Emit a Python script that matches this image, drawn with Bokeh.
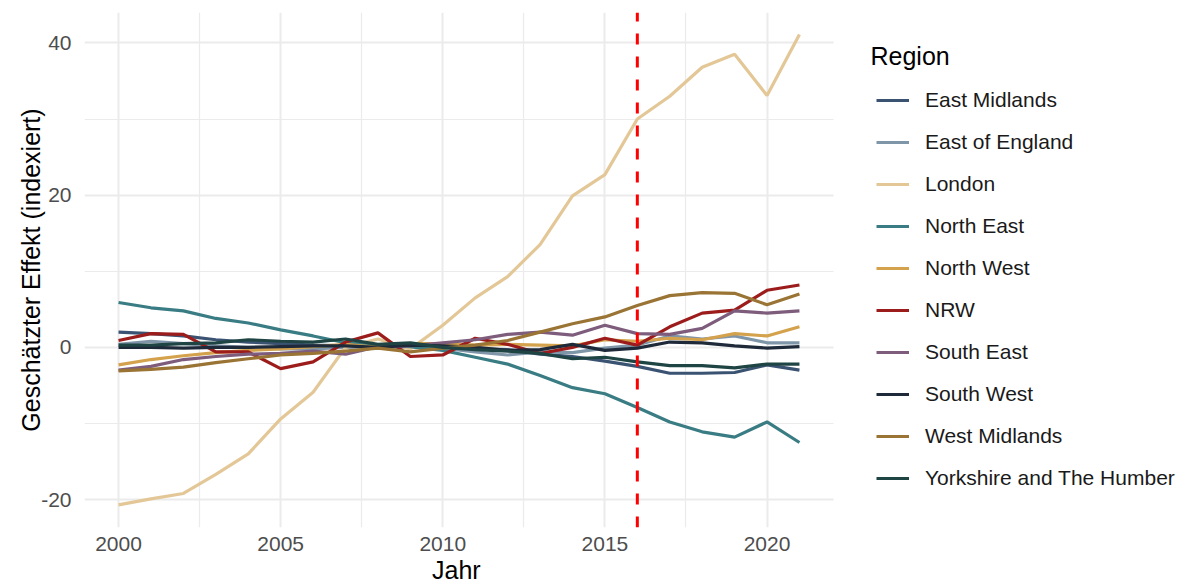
from bokeh.plotting import figure
from bokeh.models import Range1d, FixedTicker, Legend, LegendItem, Label, Title
from bokeh.embed import file_html
from bokeh.resources import INLINE

years = list(range(2000, 2022))

regions = ["East Midlands", "East of England", "London", "North East", "North West",
           "NRW", "South East", "South West", "West Midlands", "Yorkshire and The Humber"]

colors = ["#3B5372", "#7F95A8", "#E3C797", "#3A7C83", "#D4A24C",
          "#9C1C1C", "#7D5C7C", "#1E2A3A", "#9A7434", "#1F4444"]

east_midlands = [2.0, 1.8, 1.5, 1.0, 0.7, 0.5, 0.3, 0.2, 0.0, 0.1, 0.0, -0.2, -0.3, -0.9, -1.2, -1.8, -2.5, -3.4, -3.4, -3.3, -2.3, -3.0]
east_of_england = [0.4, 0.8, 0.5, 0.2, 0.0, -0.2, -0.2, 0.0, 0.1, 0.1, -0.1, -0.6, -1.0, -0.6, -0.7, -0.1, 0.3, 1.5, 1.1, 1.5, 0.6, 0.6]
london = [-20.7, -19.9, -19.2, -16.7, -14.0, -9.4, -5.9, 0.0, 1.1, -0.2, 2.9, 6.5, 9.3, 13.5, 19.9, 22.7, 30.0, 33.0, 36.8, 38.5, 33.1, 41.1]
north_east = [5.9, 5.2, 4.8, 3.8, 3.2, 2.3, 1.5, 0.6, 0.3, 0.1, -0.4, -1.3, -2.2, -3.7, -5.3, -6.1, -7.9, -9.8, -11.1, -11.8, -9.8, -12.5]
north_west = [-2.3, -1.6, -1.1, -0.7, -0.4, -0.2, 0.1, 0.4, 0.0, 0.5, 0.5, 0.3, 0.4, 0.3, 0.2, 1.0, 0.8, 1.2, 1.0, 1.8, 1.5, 2.7]
nrw = [0.9, 1.8, 1.7, -0.6, -0.6, -2.8, -1.9, 0.7, 1.9, -1.2, -1.0, 1.2, 0.4, -0.8, 0.0, 1.2, 0.3, 2.7, 4.5, 4.9, 7.5, 8.2]
south_east = [-3.0, -2.5, -1.6, -1.2, -0.9, -0.8, -0.5, -0.9, 0.1, 0.2, 0.6, 1.0, 1.7, 2.0, 1.6, 2.9, 1.8, 1.7, 2.5, 4.8, 4.5, 4.8]
south_west = [0.0, 0.0, -0.1, 0.0, 0.0, 0.1, 0.2, 0.2, 0.0, 0.3, 0.2, 0.0, -0.4, -0.3, 0.4, -0.4, -0.1, 0.7, 0.6, 0.2, -0.1, 0.1]
west_midlands = [-3.1, -2.9, -2.6, -2.0, -1.5, -1.0, -0.8, -0.5, -0.1, -0.6, -0.1, 0.3, 0.9, 2.0, 3.1, 4.0, 5.5, 6.8, 7.2, 7.1, 5.6, 7.0]
yorkshire = [0.3, 0.3, 0.5, 0.6, 1.0, 0.8, 0.7, 1.1, 0.4, 0.6, 0.0, -0.3, -0.5, -0.8, -1.5, -1.3, -1.9, -2.4, -2.4, -2.7, -2.2, -2.2]

series = [east_midlands, east_of_england, london, north_east, north_west,
          nrw, south_east, south_west, west_midlands, yorkshire]

cutoff_year = 2016

x_major = [2000, 2005, 2010, 2015, 2020]
x_minor = [2002.5, 2007.5, 2012.5, 2017.5]
y_major = [-20, 0, 20, 40]
y_minor = [-10, 10, 30]
y_labels = {-20: "-20", 0: "0", 20: "20", 40: "40"}

FONT = "Liberation Sans"
X0, X1 = 1998.95, 2022.05      # data extent of the panel (ggplot-style 5% expansion)
Y0, Y1 = -23.67, 44.0

W, H = 1188, 587
LEFT, TOP, BOTTOM = 84, 12, 60
PANEL_W = 749                  # width of the visible data panel
frame_w = W - LEFT
x_end = X0 + (X1 - X0) * frame_w / PANEL_W   # frame extends under the legend

p = figure(width=W, height=H, output_backend="svg", toolbar_location=None,
           x_range=Range1d(X0, x_end), y_range=Range1d(Y0, Y1),
           min_border_left=LEFT, min_border_right=0, min_border_top=TOP, min_border_bottom=BOTTOM)
p.outline_line_color = None
p.background_fill_color = "white"
p.border_fill_color = "white"

p.xaxis.ticker = FixedTicker(ticks=x_major, minor_ticks=x_minor)
p.yaxis.ticker = FixedTicker(ticks=y_major, minor_ticks=y_minor)
p.yaxis.major_label_overrides = y_labels
p.xaxis.bounds = (X0, X1)
for ax in (p.xaxis[0], p.yaxis[0]):
    ax.axis_line_color = None
    ax.major_tick_line_color = None
    ax.minor_tick_line_color = None
    ax.major_tick_out = 0
    ax.major_tick_in = 0
    ax.minor_tick_out = 0
    ax.minor_tick_in = 0
    ax.major_label_text_font = FONT
    ax.major_label_text_font_size = "21px"
    ax.major_label_text_color = "#4D4D4D"
    ax.axis_label_text_font = FONT
    ax.axis_label_text_font_size = "25px"
    ax.axis_label_text_font_style = "normal"
    ax.axis_label_text_color = "#000000"
p.yaxis.axis_label_standoff = -7
p.xaxis.major_label_standoff = 9
p.yaxis.major_label_standoff = 13
p.yaxis.axis_label = "Geschätzter Effekt (indexiert)"

# x-axis title, placed under the centre of the data panel (not of the whole frame)
jahr_offset = PANEL_W / 2 - 27
p.add_layout(Title(text="Jahr", align="left", offset=jahr_offset, standoff=0,
                   text_font=FONT, text_font_size="25px", text_font_style="normal",
                   text_color="#000000"), "below")

for g in (p.xgrid[0], p.ygrid[0]):
    g.grid_line_color = "#EBEBEB"
    g.grid_line_width = 2
    g.minor_grid_line_color = "#EBEBEB"
    g.minor_grid_line_width = 1.2
p.ygrid[0].cross_bounds = (X0, X1)
p.xgrid[0].bounds = (X0, X1)

items = []
for name, col, vals in zip(regions, colors, series):
    r = p.line(years, vals, line_color=col, line_width=3.2)
    items.append(LegendItem(label=name, renderers=[r]))

p.line([cutoff_year, cutoff_year], [Y0, Y1], line_color="#FF0000", line_width=3, line_dash="11 12")

legend = Legend(items=items, location=(792, 34), orientation="vertical",
                padding=0, margin=0, spacing=12, glyph_width=33, glyph_height=30,
                label_height=30, label_standoff=16, border_line_color=None,
                background_fill_alpha=0,
                label_text_font=FONT, label_text_font_size="21px", label_text_color="#1A1A1A")
p.add_layout(legend, "center")

p.add_layout(Label(x=786, y=472, x_units="screen", y_units="screen", text="Region",
                   text_font=FONT, text_font_size="25px", text_color="#000000",
                   text_align="left", text_baseline="alphabetic"))

open("out.html", "w").write(file_html(p, INLINE))
